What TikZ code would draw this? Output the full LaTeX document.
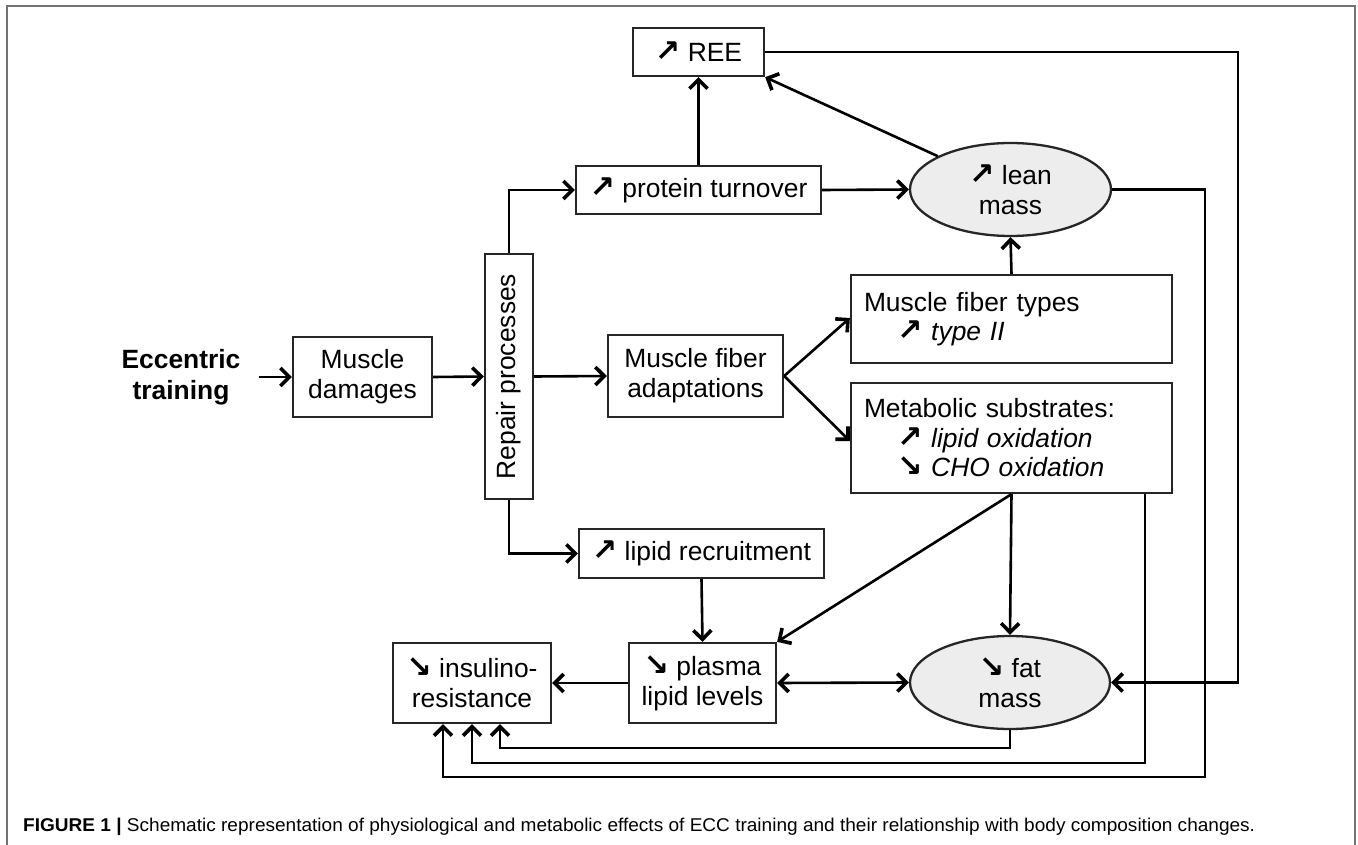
\documentclass[tikz,border=0pt]{standalone}
\usepackage{fontspec}
\setmainfont{Liberation Sans}
\newfontfamily\arr{DejaVu Sans}
\usetikzlibrary{arrows.meta,shapes.geometric}
\newcommand{\up}{{\arr\bfseries\scalebox{1.15}{\char"2197}}}
\newcommand{\dn}{{\arr\bfseries\scalebox{1.15}{\char"2198}}}
\tikzset{
  box/.style={draw=black!85, line width=2.3pt, fill=white, align=center, inner sep=0pt,
    font=\fontsize{26.4}{30}\selectfont},
  ell/.style={ellipse, draw=black!85, line width=2.3pt, fill=black!7, align=center, inner sep=0pt,
    font=\fontsize{26.4}{30}\selectfont},
  tip/.tip={Straight Barb[length=9pt,width=18pt,line width=3.6pt]},
  conn/.style={line width=2.6pt, -tip},
  dconn/.style={line width=2.6pt, tip-tip},
}
\begin{document}
\begin{tikzpicture}[x=1pt,y=-1pt]
\useasboundingbox (0,0) rectangle (1358,845);
\draw[black!55, line width=2pt] (7,860) -- (7,6) -- (1355,6) -- (1355,860);

% nodes
\node[font=\bfseries\fontsize{26.4}{31}\selectfont, align=center, inner sep=0pt] (ecc) at (181,377) {Eccentric\\training};
\node[box, minimum width=139pt, minimum height=80pt] (dam) at (362.5,377) {Muscle\\damages};
\node[box, minimum width=48pt, minimum height=245pt] (rep) at (509,376.5) {\rotatebox{90}{Repair processes}};
\node[box, minimum width=175pt, minimum height=82pt] (adap) at (695.5,376) {Muscle fiber\\adaptations};
\node[box, minimum width=131pt, minimum height=48pt] (ree) at (698.5,52) {\up\ REE};
\node[box, minimum width=245pt, minimum height=48pt] (prot) at (698.5,190) {\up\ protein turnover};
\node[ell, minimum width=201pt, minimum height=93pt] (lean) at (1010.5,189.5) {\up\ lean\\mass};
\node[box, minimum width=321pt, minimum height=88pt, text width=295pt, align=left,
      font=\fontsize{26.4}{29.5}\selectfont] (mft) at (1011.5,319) {Muscle fiber types\\\hspace*{33pt}\up\ \textit{type II}};
\node[box, minimum width=321pt, minimum height=110pt, text width=295pt, align=left,
      font=\fontsize{26.4}{29.5}\selectfont] (met) at (1011.5,438) {Metabolic substrates:\\\hspace*{33pt}\up\ \textit{lipid oxidation}\\\hspace*{33pt}\dn\ \textit{CHO oxidation}};
\node[box, minimum width=245pt, minimum height=49pt] (lipr) at (701.5,553.5) {\up\ lipid recruitment};
\node[box, minimum width=147pt, minimum height=80pt] (plas) at (702.5,683) {\dn\ plasma\\lipid levels};
\node[box, minimum width=158pt, minimum height=80pt] (ins) at (472,683) {\dn\ insulino-\\resistance};
\node[ell, minimum width=200pt, minimum height=93pt] (fat) at (1010,682.5) {\dn\ fat\\mass};

\coordinate (cR) at (1238,0);
\coordinate (cL) at (1205,0);
\coordinate (cM) at (1145,0);
\coordinate (y1) at (0,748);
\coordinate (y2) at (0,763);
\coordinate (y3) at (0,777);
\coordinate (i1) at (500,0);
\coordinate (i2) at (472,0);
\coordinate (i3) at (443,0);

% connectors
\draw[conn] ([xshift=18pt]ecc.east) -- (dam.west);
\draw[conn] (dam.east) -- (rep.west);
\draw[conn] (rep.north) |- (prot.west);
\draw[conn] (rep.east) -- (adap.west);
\draw[conn] (rep.south) |- (lipr.west);
\draw[conn] (prot.north) -- (ree.south);
\draw[conn] (prot.east) -- (lean.west);
\draw[conn] (lean) -- (ree.south east);
\draw[conn] (mft.north) -- (lean.south);
\draw[conn] (adap.east) -- ([yshift=1pt]mft.west);
\draw[conn] (adap.east) -- ([yshift=-3pt]met.west);
\draw[conn] (met.south) -- (fat.north);
\draw[conn] (met.south) -- (plas.north east);
\draw[conn] (lipr.south) -- (plas.north);
\draw[conn] (plas.west) -- (ins.east);
\draw[dconn] (plas.east) -- (fat.west);
\draw[conn] (ree.east) -| (cR |- fat.east) -- (fat.east);
\draw[conn] (lean.east) -| (cL |- y3) -- (i3 |- y3) -- (i3 |- ins.south);
\draw[conn] (met.south -| cM) -- (cM |- y2) -- (i2 |- y2) -- (i2 |- ins.south);
\draw[conn] (fat.south) -- (fat.south |- y1) -- (i1 |- y1) -- (i1 |- ins.south);

% caption
\node[anchor=base west, inner sep=0pt] (cap) at (23,831) {\resizebox{1232pt}{\height}{\fontsize{18.5}{20}\selectfont\textbf{FIGURE 1} \textbf{|} Schematic representation of physiological and metabolic effects of ECC training and their relationship with body composition changes.}};
\end{tikzpicture}
\end{document}
